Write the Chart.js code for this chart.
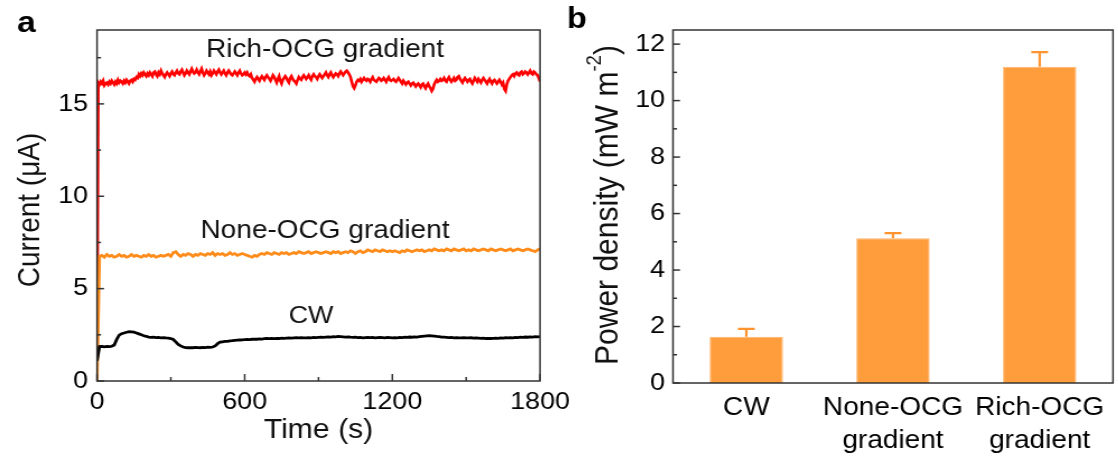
<!DOCTYPE html>
<html>
<head>
<meta charset="utf-8">
<script src="https://cdn.jsdelivr.net/npm/chart.js@4.4.1/dist/chart.umd.min.js"></script>
<style>
  html, body { margin: 0; padding: 0; background: #fff; width: 1118px; height: 461px; overflow: hidden; }
  .panel { position: absolute; top: 0; height: 461px; transform-origin: 0 0; }
  canvas { display: block; }
</style>
</head>
<body>
<div id="pa" class="panel"><canvas id="ca" width="540" height="461" style="width:540px;height:461px"></canvas></div>
<div id="pb" class="panel"><canvas id="cb" width="500" height="461" style="width:500px;height:461px"></canvas></div>
<script>
// ---------------- DATA ----------------
const RICH_SAMPLE_INTERVAL_S = 5;    // Rich-OCG: one reading every 5 s
const SAMPLE_INTERVAL_S = 10;        // None-OCG and CW: one reading every 10 s

// Rich-OCG gradient current (µA), 0 .. 1800 s
const richOCG = [0,
  16.15,16.05,16.2,16.1,16.25,16.0,16.1,16.15,16.05,16.2,16.1,16.25,16.15,16.05,16.2,16.1,16.3,16.15,16.25,16.2,
  16.1,16.25,16.15,16.3,16.2,16.1,16.25,16.3,16.2,16.35,16.3,16.45,16.4,16.6,16.5,16.65,16.55,16.7,16.6,16.5,
  16.65,16.55,16.7,16.6,16.5,16.7,16.75,16.6,16.5,16.7,16.6,16.8,16.65,16.55,16.45,16.6,16.7,16.6,16.5,16.65,
  16.75,16.6,16.55,16.7,16.8,16.65,16.6,16.75,16.85,16.7,16.55,16.65,16.8,16.7,16.6,16.75,16.9,16.75,16.65,16.7,
  16.85,16.7,16.6,16.75,16.9,16.7,16.55,16.65,16.8,16.7,16.6,16.75,16.55,16.65,16.8,16.7,16.6,16.75,16.85,16.7,
  16.6,16.7,16.8,16.65,16.55,16.7,16.8,16.7,16.6,16.55,16.65,16.75,16.65,16.55,16.7,16.8,16.65,16.55,16.6,16.7,
  16.6,16.7,16.55,16.5,16.6,16.4,16.3,16.2,16.35,16.45,16.35,16.25,16.4,16.5,16.4,16.3,16.45,16.55,16.45,16.35,
  16.25,16.4,16.55,16.45,16.3,16.15,16.35,16.5,16.25,16.1,16.3,16.4,16.5,16.4,16.25,16.15,16.4,16.5,16.35,16.25,
  16.2,16.1,16.3,16.45,16.35,16.3,16.45,16.55,16.45,16.35,16.45,16.55,16.4,16.3,16.5,16.6,16.5,16.45,16.35,16.5,
  16.6,16.5,16.4,16.5,16.6,16.7,16.55,16.45,16.6,16.7,16.55,16.45,16.55,16.65,16.6,16.5,16.65,16.75,16.65,16.55,
  16.65,16.75,16.8,16.7,16.6,16.45,16.2,15.95,15.85,16.0,16.2,16.3,16.25,16.35,16.2,16.3,16.4,16.3,16.25,16.35,
  16.3,16.2,16.35,16.45,16.3,16.25,16.2,16.3,16.4,16.35,16.25,16.3,16.4,16.3,16.2,16.35,16.45,16.3,16.25,16.3,
  16.35,16.25,16.2,16.3,16.4,16.3,16.2,16.1,16.25,16.15,16.05,16.15,16.2,16.1,16.0,16.1,16.15,16.05,15.95,16.05,
  16.1,16.0,15.9,16.05,16.1,15.95,15.85,16.0,16.1,15.95,15.85,15.7,15.8,16.05,16.2,16.3,16.2,16.25,16.35,16.25,
  16.3,16.4,16.25,16.2,16.35,16.45,16.3,16.2,16.3,16.4,16.25,16.3,16.45,16.5,16.35,16.25,16.15,16.3,16.4,16.3,
  16.2,16.3,16.35,16.2,16.1,16.25,16.4,16.3,16.2,16.35,16.25,16.15,16.3,16.4,16.3,16.2,16.1,16.25,16.35,16.2,
  16.1,16.25,16.3,16.2,16.1,16.2,16.3,16.2,16.05,16.15,15.8,15.7,16.05,16.25,16.35,16.45,16.55,16.6,16.5,16.65,
  16.7,16.6,16.55,16.7,16.75,16.6,16.65,16.75,16.7,16.6,16.7,16.8,16.65,16.6,16.75,16.7,16.6,16.55,16.4,16.2
];

// None-OCG gradient current (µA), 0 .. 1800 s
const noneOCG = [0,
  6.75,6.8,6.7,6.85,6.75,6.8,6.7,6.75,6.85,6.75,
  6.8,6.7,6.75,6.85,6.75,6.8,6.75,6.7,6.8,6.75,
  6.85,6.75,6.8,6.7,6.75,6.8,6.75,6.8,6.85,6.75,
  6.95,7.0,6.85,6.75,6.85,6.8,6.9,6.85,6.75,6.85,
  6.8,6.9,6.85,6.8,6.9,6.85,6.95,6.8,6.9,6.85,
  6.9,6.8,6.85,6.95,6.85,6.9,6.8,6.85,6.9,6.85,
  6.8,6.75,6.7,6.8,6.75,6.85,6.9,6.85,6.95,6.9,
  6.85,6.95,6.9,6.85,6.95,6.9,6.95,6.85,6.9,6.95,
  6.9,7.0,6.95,6.9,6.95,7.0,6.9,6.95,7.0,6.95,
  6.9,6.95,7.0,6.95,6.9,7.0,6.95,7.0,6.9,6.95,
  7.0,6.95,7.05,7.0,6.9,7.0,7.05,6.95,7.0,7.1,
  7.05,7.0,7.1,7.05,7.0,7.1,7.05,7.0,7.05,7.0,
  7.05,7.0,6.95,7.05,7.0,7.1,7.05,7.0,7.05,7.1,
  7.05,7.1,7.0,7.05,7.1,7.05,7.15,7.1,7.05,7.1,
  7.05,7.15,7.1,7.05,7.15,7.1,7.05,7.1,7.15,7.05,
  7.1,7.05,7.15,7.1,7.05,7.1,7.15,7.1,7.05,7.15,
  7.1,7.05,7.1,7.15,7.1,7.05,7.1,7.15,7.05,7.1,
  7.15,7.1,7.05,7.1,7.15,7.1,7.05,7.0,7.1,7.15
];

// CW current (µA), 0 .. 1800 s
const cwCurrent = [1.1,
  1.86,1.87,1.85,1.87,1.86,1.88,1.95,2.25,2.48,2.56,
  2.6,2.64,2.67,2.66,2.64,2.6,2.55,2.5,2.45,2.42,
  2.38,2.36,2.37,2.35,2.36,2.34,2.35,2.33,2.32,2.3,
  2.25,2.12,1.98,1.9,1.84,1.81,1.8,1.81,1.8,1.82,
  1.81,1.8,1.82,1.81,1.83,1.82,1.84,1.9,2.02,2.1,
  2.12,2.14,2.15,2.17,2.18,2.2,2.21,2.22,2.23,2.24,
  2.25,2.24,2.26,2.27,2.26,2.28,2.27,2.29,2.3,2.29,
  2.3,2.29,2.31,2.3,2.32,2.31,2.32,2.33,2.32,2.33,
  2.34,2.33,2.35,2.34,2.33,2.35,2.34,2.36,2.35,2.36,
  2.37,2.36,2.38,2.39,2.38,2.4,2.39,2.41,2.4,2.39,
  2.38,2.39,2.37,2.36,2.37,2.35,2.36,2.34,2.35,2.36,
  2.35,2.36,2.34,2.35,2.36,2.35,2.34,2.36,2.35,2.34,
  2.35,2.34,2.36,2.35,2.37,2.36,2.38,2.37,2.39,2.38,
  2.4,2.42,2.43,2.44,2.45,2.44,2.43,2.41,2.4,2.38,
  2.37,2.36,2.35,2.36,2.34,2.35,2.33,2.34,2.35,2.34,
  2.33,2.34,2.32,2.33,2.32,2.31,2.32,2.3,2.31,2.3,
  2.31,2.32,2.31,2.33,2.32,2.34,2.33,2.35,2.34,2.36,
  2.35,2.37,2.36,2.38,2.37,2.39,2.38,2.4,2.39,2.4
];

const timeTickLabels = [0, 600, 1200, 1800];
const currentTickLabels = [0, 5, 10, 15];

const barCategories = ['CW', ['None-OCG', 'gradient'], ['Rich-OCG', 'gradient']];
const powerDensity = [1.64, 5.13, 11.2];
const powerDensityErr = [0.28, 0.18, 0.52];
const powerTickLabels = [0, 2, 4, 6, 8, 10, 12];

// ---------------- STYLE / LAYOUT ----------------
const K = 1.12;                      // horizontal stretch of the original figure
const FONT = "'Liberation Sans', Arial, Helvetica, sans-serif";
const PANEL_A_LEFT = 0, PANEL_B_LEFT = 556;
const ix = (cssX, left) => (cssX - left) / K;

document.getElementById('pa').style.left = PANEL_A_LEFT + 'px';
document.getElementById('pb').style.left = PANEL_B_LEFT + 'px';
document.getElementById('pa').style.transform = `scaleX(${K})`;
document.getElementById('pb').style.transform = `scaleX(${K})`;

Chart.defaults.font.family = FONT;
Chart.defaults.color = '#000';

const asXY = (arr, step) => arr.map((v, i) => ({ x: i * step, y: v }));

// ---------------- PLUGINS ----------------
const frameTicks = {
  id: 'frameTicks',
  afterDatasetsDraw(chart, args, o) {
    const { ctx, chartArea: a } = chart;
    ctx.save();
    ctx.strokeStyle = o.color || '#333';
    ctx.lineWidth = o.width || 1.5;
    ctx.strokeRect(a.left, a.top, a.right - a.left, a.bottom - a.top);
    const drawAxis = (scale, major, minor, horizontal) => {
      if (!major || !scale) return;
      scale.ticks.forEach(t => {
        const v = t.value;
        const onMajor = Math.abs(v / major - Math.round(v / major)) < 1e-6;
        const onMinor = Math.abs(v / minor - Math.round(v / minor)) < 1e-6;
        if (!onMinor) return;
        const len = onMajor ? o.majorLen : o.minorLen;
        const p = scale.getPixelForValue(v);
        ctx.beginPath();
        if (horizontal) { ctx.moveTo(p, a.bottom); ctx.lineTo(p, a.bottom - len); }
        else { ctx.moveTo(a.left, p); ctx.lineTo(a.left + len / K, p); }
        ctx.stroke();
      });
    };
    drawAxis(chart.scales.x, o.xMajor, o.xMinor, true);
    drawAxis(chart.scales.y, o.yMajor, o.yMinor, false);
    ctx.restore();
  }
};

const panelText = {
  id: 'panelText',
  afterDraw(chart, args, o) {
    const ctx = chart.ctx;
    (o.items || []).forEach(it => {
      ctx.save();
      ctx.fillStyle = it.color || '#111';
      const font = s => `${it.weight || 'normal'} ${s}px ${FONT}`;
      ctx.font = font(it.size);
      ctx.textBaseline = it.baseline || 'alphabetic';
      ctx.translate(it.x, it.y);
      if (it.rotate) ctx.rotate(it.rotate);
      if (it.parts) {
        let total = 0;
        it.parts.forEach(p => {
          ctx.font = font(p.sup ? it.size * 0.62 : it.size);
          total += ctx.measureText(p.t).width;
        });
        let x = -total / 2;
        ctx.textAlign = 'left';
        it.parts.forEach(p => {
          ctx.font = font(p.sup ? it.size * 0.62 : it.size);
          ctx.fillText(p.t, x, p.sup ? -it.size * 0.38 : 0);
          x += ctx.measureText(p.t).width;
        });
      } else {
        ctx.textAlign = it.align || 'center';
        ctx.fillText(it.text, 0, 0);
      }
      ctx.restore();
    });
  }
};

const errorBars = {
  id: 'errorBars',
  afterDatasetsDraw(chart, args, o) {
    if (!o.errors) return;
    const meta = chart.getDatasetMeta(0);
    const y = chart.scales.y;
    const ctx = chart.ctx;
    ctx.save();
    ctx.strokeStyle = o.color;
    ctx.lineWidth = o.width;
    meta.data.forEach((bar, i) => {
      const v = chart.data.datasets[0].data[i];
      const yTop = y.getPixelForValue(v);
      const yErr = y.getPixelForValue(v + o.errors[i]);
      ctx.beginPath();
      ctx.moveTo(bar.x, yTop); ctx.lineTo(bar.x, yErr);
      ctx.moveTo(bar.x - o.cap / 2, yErr); ctx.lineTo(bar.x + o.cap / 2, yErr);
      ctx.stroke();
    });
    ctx.restore();
  }
};

// ---------------- PANEL A ----------------
const A_LEFT = ix(97, PANEL_A_LEFT), A_RIGHT = ix(540, PANEL_A_LEFT);
new Chart(document.getElementById('ca'), {
  type: 'line',
  data: {
    datasets: [
      { label: 'Rich-OCG gradient', data: asXY(richOCG, RICH_SAMPLE_INTERVAL_S), borderColor: '#FF0000', borderWidth: 2.6, pointRadius: 0, tension: 0, order: 3 },
      { label: 'None-OCG gradient', data: asXY(noneOCG, SAMPLE_INTERVAL_S), borderColor: '#FF8C1A', borderWidth: 2.8, pointRadius: 0, tension: 0, order: 2 },
      { label: 'CW', data: asXY(cwCurrent, SAMPLE_INTERVAL_S), borderColor: '#000000', borderWidth: 2.8, pointRadius: 0, tension: 0, order: 1 }
    ]
  },
  options: {
    responsive: false,
    animation: false,
    events: [],
    layout: { padding: { left: 0, top: 30, right: 540 - A_RIGHT, bottom: 0 } },
    plugins: {
      legend: { display: false },
      tooltip: { enabled: false },
      frameTicks: { color: '#333', width: 1.5, majorLen: 7, minorLen: 4, xMajor: 600, xMinor: 300, yMajor: 5, yMinor: 2.5 },
      panelText: { items: [
        { text: 'a', x: ix(17, PANEL_A_LEFT), y: 31.5, size: 30, weight: 'bold', align: 'left', color: '#000' },
        { text: 'Current (μA)', x: ix(30, PANEL_A_LEFT), y: 210, size: 28, rotate: -Math.PI / 2, baseline: 'middle' },
        { text: 'Time (s)', x: ix(318.5, PANEL_A_LEFT), y: 438, size: 27 },
        { text: 'Rich-OCG gradient', x: ix(325, PANEL_A_LEFT), y: 57, size: 25 },
        { text: 'None-OCG gradient', x: ix(325, PANEL_A_LEFT), y: 237.5, size: 25 },
        { text: 'CW', x: ix(311, PANEL_A_LEFT), y: 322.5, size: 24 }
      ] }
    },
    scales: {
      x: {
        type: 'linear', min: 0, max: 1800,
        grid: { display: false, drawTicks: false },
        border: { display: false },
        ticks: {
          stepSize: 300, autoSkip: false, maxRotation: 0, padding: 7, includeBounds: false,
          font: { size: 24 }, color: '#000',
          callback: v => timeTickLabels.includes(v) ? String(v) : ''
        },
        afterFit: s => { s.height = 461 - 381; }
      },
      y: {
        type: 'linear', min: 0, max: 19,
        grid: { display: false, drawTicks: false },
        border: { display: false },
        ticks: {
          stepSize: 2.5, autoSkip: false, padding: 8, includeBounds: false,
          font: { size: 24 }, color: '#000',
          callback: v => currentTickLabels.includes(v) ? String(v) : ''
        },
        afterFit: s => { s.width = A_LEFT; }
      }
    }
  },
  plugins: [frameTicks, panelText]
});

// ---------------- PANEL B ----------------
const B_LEFT = ix(673, PANEL_B_LEFT), B_RIGHT = ix(1113, PANEL_B_LEFT);
new Chart(document.getElementById('cb'), {
  type: 'bar',
  data: {
    labels: barCategories,
    datasets: [{
      label: 'Power density',
      data: powerDensity,
      backgroundColor: '#FF9D3C',
      borderColor: '#FFB46A',
      borderWidth: 1,
      barPercentage: 0.5,
      categoryPercentage: 1.0
    }]
  },
  options: {
    responsive: false,
    animation: false,
    events: [],
    layout: { padding: { left: 0, top: 30, right: 500 - B_RIGHT, bottom: 0 } },
    plugins: {
      legend: { display: false },
      tooltip: { enabled: false },
      frameTicks: { color: '#333', width: 1.5, majorLen: 7, minorLen: 4, yMajor: 2, yMinor: 1 },
      errorBars: { errors: powerDensityErr, color: '#FF9330', width: 2.2, cap: 15 },
      panelText: { items: [
        { text: 'b', x: ix(567, PANEL_B_LEFT), y: 27.5, size: 29, weight: 'bold', align: 'left', color: '#000' },
        { parts: [{ t: 'Power density (mW m' }, { t: '-2', sup: true }, { t: ')' }],
          x: ix(608, PANEL_B_LEFT), y: 205, size: 30, rotate: -Math.PI / 2, baseline: 'middle' }
      ] }
    },
    scales: {
      x: {
        type: 'category',
        grid: { display: false, drawTicks: false },
        border: { display: false },
        ticks: { padding: 8, font: { size: 25, lineHeight: 1.33 }, color: '#000', maxRotation: 0, autoSkip: false },
        afterFit: s => { s.height = 461 - 383; }
      },
      y: {
        type: 'linear', min: 0, max: 12.5,
        grid: { display: false, drawTicks: false },
        border: { display: false },
        ticks: {
          stepSize: 1, autoSkip: false, padding: 7, includeBounds: false,
          font: { size: 24 }, color: '#000',
          callback: v => powerTickLabels.includes(v) ? String(v) : ''
        },
        afterFit: s => { s.width = B_LEFT; }
      }
    }
  },
  plugins: [frameTicks, panelText, errorBars]
});
</script>
</body>
</html>
